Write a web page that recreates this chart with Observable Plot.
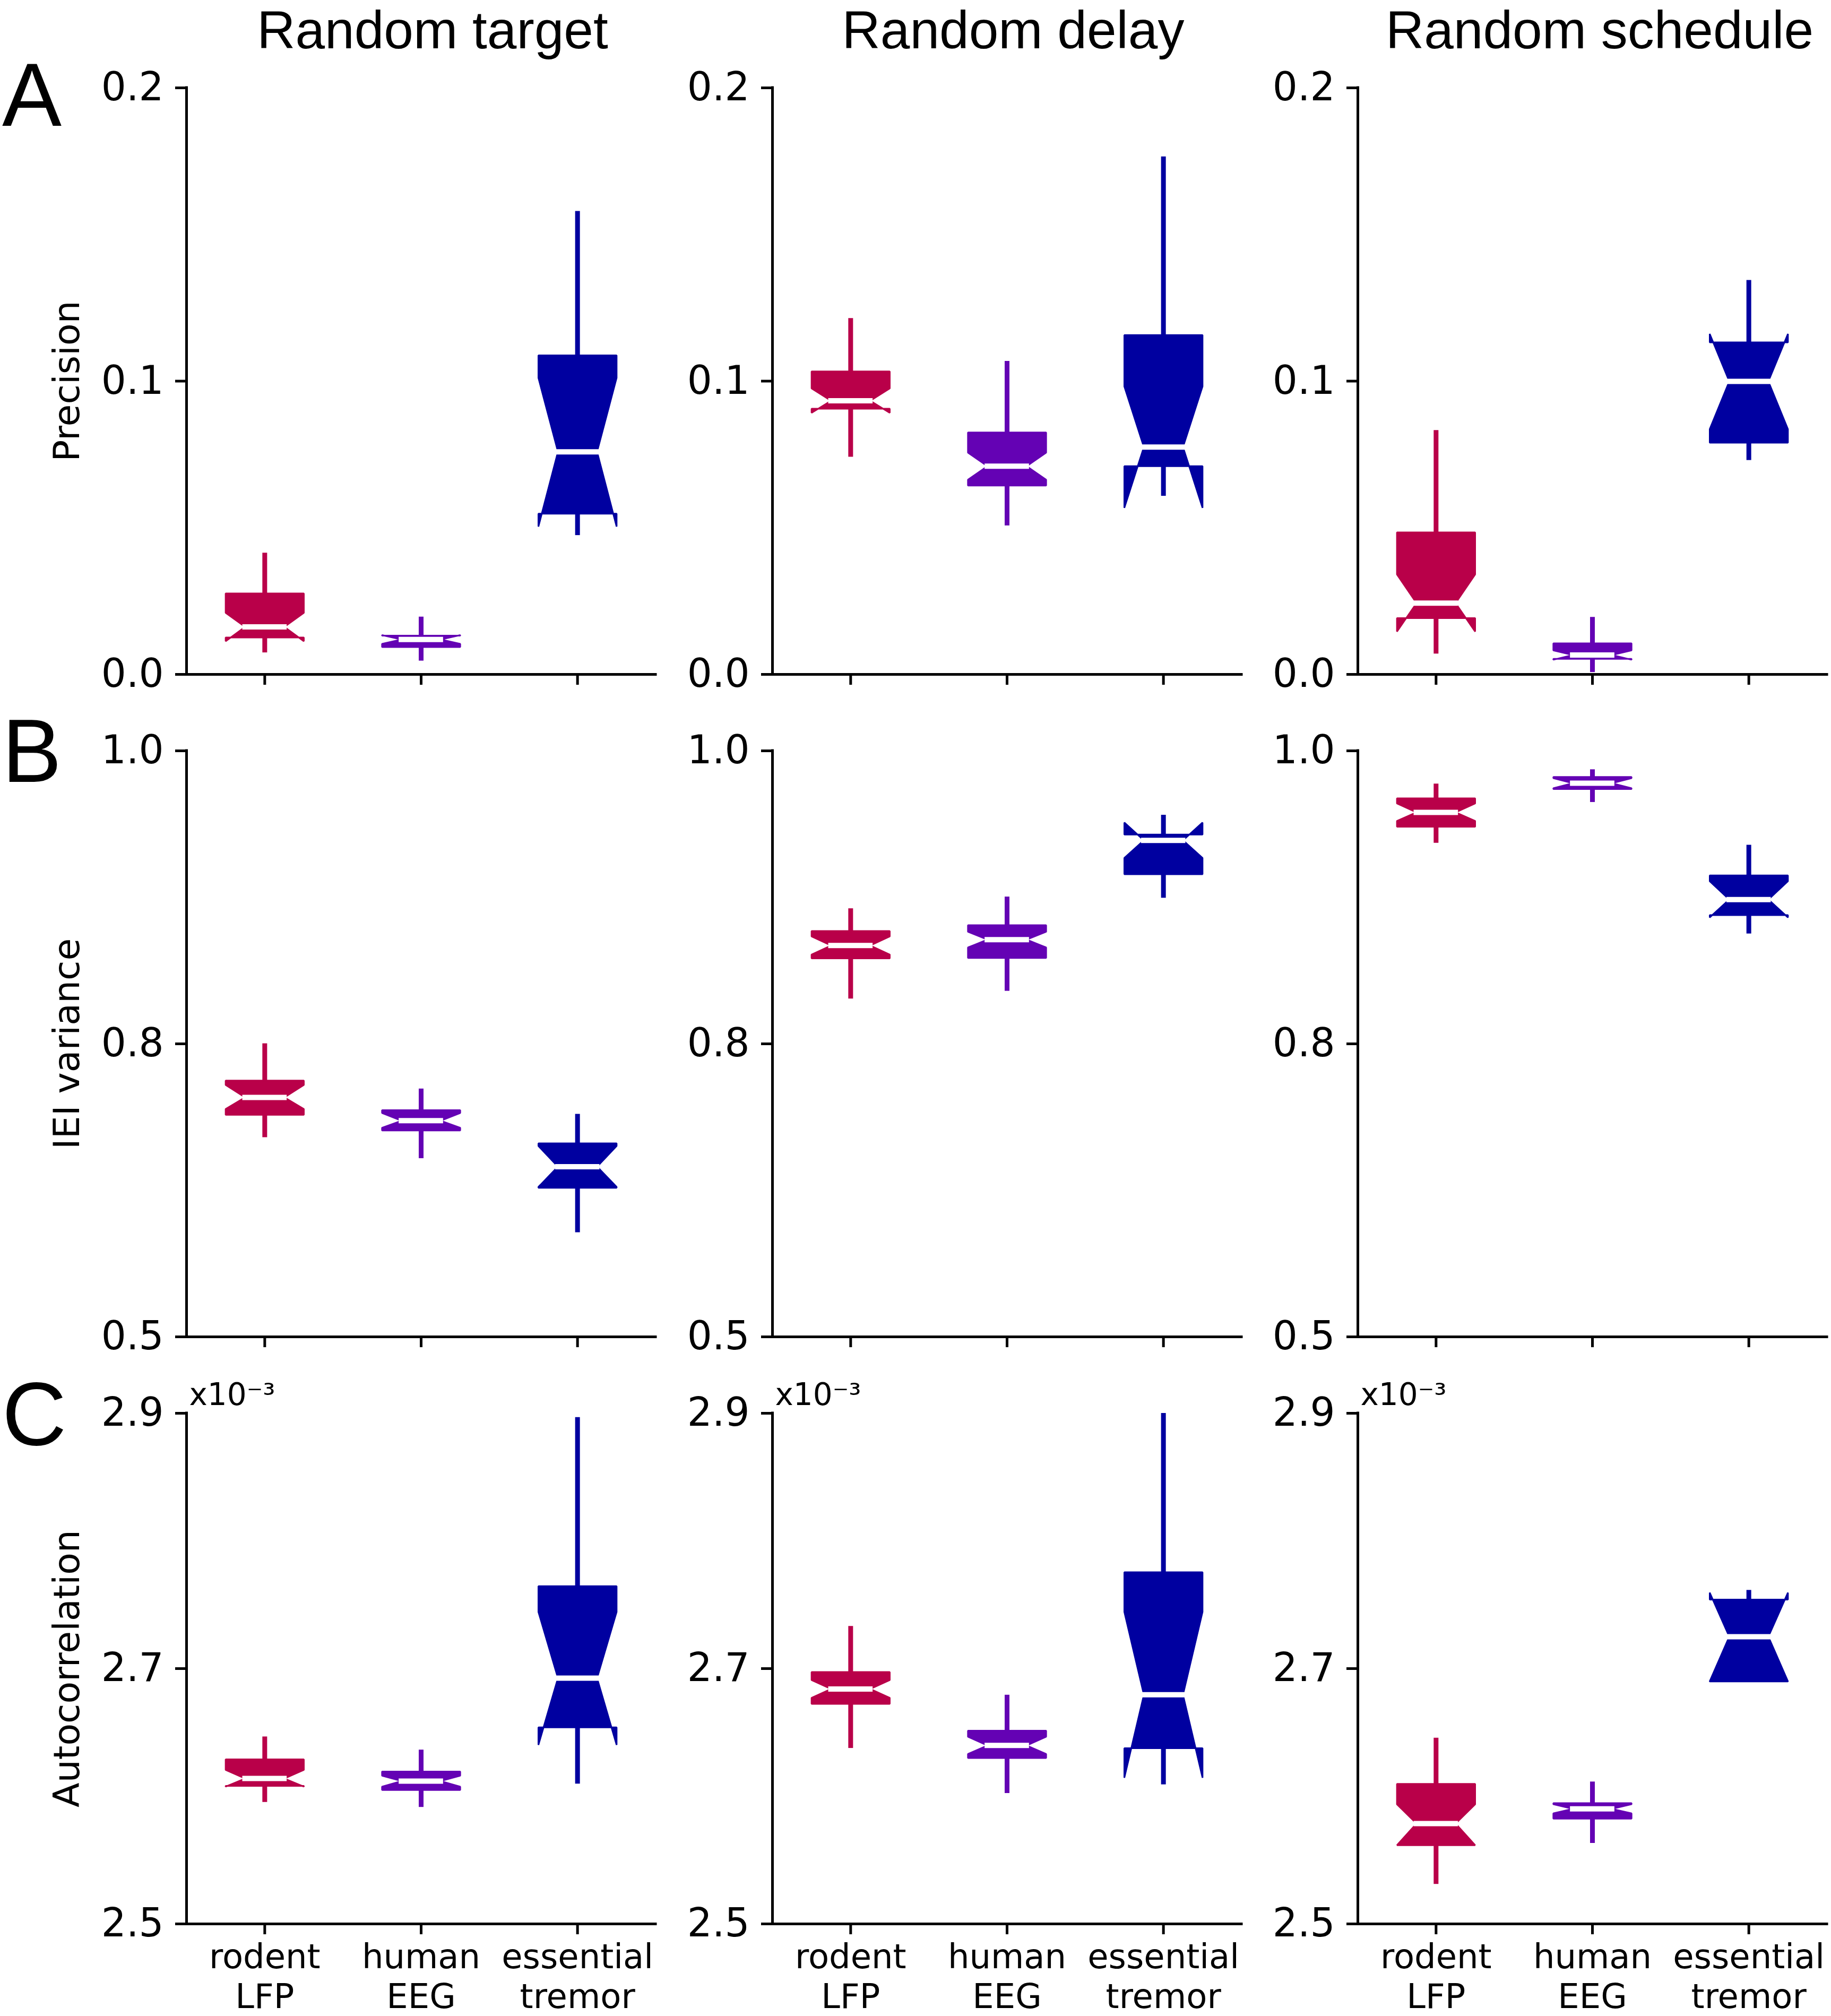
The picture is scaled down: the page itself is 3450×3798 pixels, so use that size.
<!DOCTYPE html>
<html>
<head>
<meta charset="utf-8">
<script src="https://cdn.jsdelivr.net/npm/d3@7"></script>
<script src="https://cdn.jsdelivr.net/npm/@observablehq/plot@0.6"></script>
<style>
  html, body { margin: 0; padding: 0; background: #fff; }
  #fig { position: relative; width: 3450px; height: 3798px; overflow: hidden; background: #fff; }
  .abs { position: absolute; white-space: nowrap; line-height: 1; color: #000; }
  .title { font-family: "Liberation Sans", Arial, sans-serif; font-size: 100px; text-align: center; width: 1200px; }
  .letter { font-family: "Liberation Sans", Arial, sans-serif; font-size: 168px; }
</style>
</head>
<body>
<div id="fig"></div>
<script>
// ---------------- data ----------------
const conditions = ["Random target", "Random delay", "Random schedule"];
const metrics = ["Precision", "IEI variance", "Autocorrelation"];
const panelLetters = ["A", "B", "C"];
const groupLabels = ["rodent\nLFP", "human\nEEG", "essential\ntremor"];
const groupColors = ["#b90049", "#6402b4", "#0000a0"];
const yDomains = [[0, 0.2], [0.5, 1.0], [2.5, 2.9]];
const yTickValues = [[0, 0.1, 0.2], [0.5, 0.75, 1.0], [2.5, 2.7, 2.9]];
const yTickLabels = [["0.0", "0.1", "0.2"], ["0.5", "0.8", "1.0"], ["2.5", "2.7", "2.9"]];
const scaleNotes = ["", "", "x10\u207B\u00B3"];

// order: metric (A,B,C) -> condition (target, delay, schedule) -> group (rodent, human, tremor)
const whiskerLow = [
  0.0074, 0.0046, 0.0474,  0.0741, 0.0507, 0.0608,  0.0070, 0.0007, 0.0730,
  0.6701, 0.6522, 0.5890,  0.7884, 0.7950, 0.8744,  0.9213, 0.9561, 0.8439,
  2.5953, 2.5914, 2.6097,  2.6376, 2.6023, 2.6091,  2.5311, 2.5632, 2.6899
];
const q1 = [
  0.0126, 0.0093, 0.0548,  0.0906, 0.0644, 0.0710,  0.0192, 0.0053, 0.0790,
  0.6894, 0.6761, 0.6272,  0.8229, 0.8233, 0.8947,  0.9352, 0.9674, 0.8598,
  2.6081, 2.6049, 2.6540,  2.6723, 2.6299, 2.6376,  2.5616, 2.5824, 2.6899
];
const notchLow = [
  0.0113, 0.0104, 0.0504,  0.0892, 0.0664, 0.0568,  0.0146, 0.0050, 0.0836,
  0.6944, 0.6784, 0.6279,  0.8262, 0.8322, 0.9086,  0.9402, 0.9681, 0.8578,
  2.6075, 2.6075, 2.6402,  2.6771, 2.6331, 2.6145,  2.5616, 2.5866, 2.6900
];
const median = [
  0.0162, 0.0119, 0.0759,  0.0933, 0.0710, 0.0775,  0.0243, 0.0066, 0.0999,
  0.7043, 0.6844, 0.6452,  0.8339, 0.8389, 0.9236,  0.9475, 0.9724, 0.8731,
  2.6139, 2.6119, 2.6925,  2.6840, 2.6398, 2.6795,  2.5786, 2.5901, 2.7250
];
const notchHigh = [
  0.0210, 0.0134, 0.1011,  0.0975, 0.0756, 0.0982,  0.0341, 0.0082, 0.1161,
  0.7149, 0.6910, 0.6628,  0.8416, 0.8456, 0.9388,  0.9551, 0.9767, 0.8887,
  2.6206, 2.6161, 2.7444,  2.6910, 2.6466, 2.7444,  2.5937, 2.5937, 2.7595
];
const q3 = [
  0.0276, 0.0132, 0.1088,  0.1033, 0.0825, 0.1157,  0.0484, 0.0106, 0.1132,
  0.7186, 0.6934, 0.6651,  0.8462, 0.8512, 0.9286,  0.9595, 0.9777, 0.8937,
  2.6289, 2.6193, 2.7646,  2.6973, 2.6514, 2.7755,  2.6097, 2.5946, 2.7541
];
const whiskerHigh = [
  0.0414, 0.0196, 0.1579,  0.1214, 0.1068, 0.1765,  0.0832, 0.0195, 0.1344,
  0.7502, 0.7116, 0.6900,  0.8654, 0.8754, 0.9452,  0.9718, 0.9840, 0.9196,
  2.6466, 2.6363, 2.8968,  2.7332, 2.6793, 2.9000,  2.6456, 2.6113, 2.7614
];

// ---------------- layout ----------------
const colX = [351, 1455, 2558];
const plotW = 884;
const rowTop = [165, 1414, 2662];
const rowBottom = [1270, 2518, 3624];
const marginL = [351, 205, 205];
const marginR = [15, 14, 8];
const marginT = 90;
const marginB = [45, 45, 174];
const titleCenterX = [815, 1909, 3014];
const titleTop = 6;
const letterBaseline = [237, 1473, 2722];

const boxHalf = 0.25, notchHalf = 0.125;

// build box records
const boxes = whiskerLow.map((_, i) => ({
  id: i,
  row: Math.floor(i / 9),
  col: Math.floor(i / 3) % 3,
  group: i % 3,
  pos: (i % 3) + 1,
  color: groupColors[i % 3],
  wlo: whiskerLow[i], q1: q1[i], nlo: notchLow[i], med: median[i],
  nhi: notchHigh[i], q3: q3[i], whi: whiskerHigh[i]
}));

function notchPolygon(b) {
  const x = b.pos, w = boxHalf, c = notchHalf;
  return [
    [x - w, b.q1], [x + w, b.q1], [x + w, b.nlo], [x + c, b.med], [x + w, b.nhi], [x + w, b.q3],
    [x - w, b.q3], [x - w, b.nhi], [x - c, b.med], [x - w, b.nlo]
  ].map(([px, py]) => ({box: b.id, color: b.color, px, py}));
}

const fig = document.getElementById("fig");

for (let r = 0; r < 3; r++) {
  for (let c = 0; c < 3; c++) {
    const data = boxes.filter(b => b.row === r && b.col === c);
    const poly = data.flatMap(notchPolygon);
    const innerH = rowBottom[r] - rowTop[r];
    const marks = [
      Plot.ruleX(data, {x: "pos", y1: "q3", y2: "whi", stroke: "color", strokeWidth: 9}),
      Plot.ruleX(data.filter(b => b.wlo < b.q1), {x: "pos", y1: "wlo", y2: "q1", stroke: "color", strokeWidth: 9}),
      Plot.line(poly, {x: "px", y: "py", z: "box", fill: "color", stroke: "color", strokeWidth: 3, curve: "linear-closed", strokeLinejoin: "miter"}),
      Plot.ruleY(data, {y: "med", x1: d => d.pos - notchHalf, x2: d => d.pos + notchHalf, stroke: "white", strokeWidth: 10, strokeLinecap: "square"}),
      Plot.axisY({
        ticks: yTickValues[r],
        tickFormat: d => yTickLabels[r][yTickValues[r].indexOf(d)],
        tickSize: 21, tickPadding: 22, fontSize: 74, strokeWidth: 5, label: null
      }),
      Plot.axisX({
        ticks: [1, 2, 3],
        tickFormat: r === 2 ? (d => groupLabels[d - 1]) : (() => ""),
        tickSize: 20, tickPadding: 10, fontSize: 64, lineHeight: 1.17, strokeWidth: 5, label: null
      }),
      Plot.ruleX([0.5], {stroke: "black", strokeWidth: 5, strokeLinecap: "square"}),
      Plot.ruleY([yDomains[r][0]], {stroke: "black", strokeWidth: 5, strokeLinecap: "square"})
    ];
    if (c === 0) {
      marks.push(Plot.text([metrics[r]], {
        text: d => d, frameAnchor: "left", rotate: -90, dx: -203,
        lineAnchor: "bottom", textAnchor: "middle", fontSize: 68, fill: "black"
      }));
    }
    if (scaleNotes[r]) {
      marks.push(Plot.text([scaleNotes[r]], {
        text: d => d, frameAnchor: "top-left", dx: 5, dy: -16,
        lineAnchor: "bottom", textAnchor: "start", fontSize: 58, fill: "black"
      }));
    }
    const svg = Plot.plot({
      width: marginL[c] + plotW + marginR[c],
      height: marginT + innerH + marginB[r],
      marginLeft: marginL[c], marginRight: marginR[c],
      marginTop: marginT, marginBottom: marginB[r],
      x: {type: "linear", domain: [0.5, 3.5]},
      y: {type: "linear", domain: yDomains[r]},
      color: {type: "identity"},
      style: {fontFamily: "DejaVu Sans", background: "transparent", overflow: "visible", color: "black", maxWidth: "none"},
      marks
    });
    svg.style.position = "absolute";
    svg.style.left = (colX[c] - marginL[c]) + "px";
    svg.style.top = (rowTop[r] - marginT) + "px";
    fig.appendChild(svg);
  }
}

// column titles
conditions.forEach((t, c) => {
  const d = document.createElement("div");
  d.className = "abs title";
  d.textContent = t;
  d.style.left = (titleCenterX[c] - 600) + "px";
  d.style.top = titleTop + "px";
  fig.appendChild(d);
});
// panel letters
panelLetters.forEach((t, r) => {
  const d = document.createElement("div");
  d.className = "abs letter";
  d.textContent = t;
  d.style.left = "4px";
  d.style.top = (letterBaseline[r] - 0.8465 * 168) + "px";
  fig.appendChild(d);
});
</script>
</body>
</html>
